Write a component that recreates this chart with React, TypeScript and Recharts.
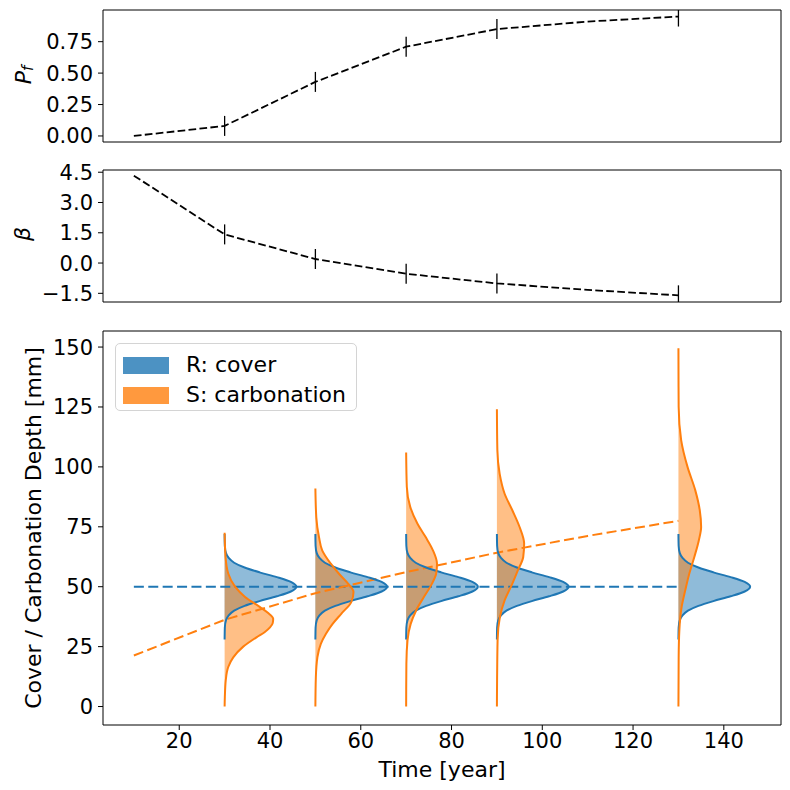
import React from 'react';
import { ComposedChart, Line, Area, Scatter, XAxis, YAxis, ReferenceArea } from 'recharts';

// time axis shared by all three panels
const TIMES = [10, 30, 50, 70, 90, 110, 130];
const MARK_TIMES = [30, 50, 70, 90, 130];
const PF = [0.0, 0.08, 0.43, 0.71, 0.85, 0.91, 0.95];
const BETA = [4.33, 1.42, 0.2, -0.53, -1.01, -1.33, -1.6];

const X_TICKS = [20, 40, 60, 80, 100, 120, 140];
const PF_TICKS = [0, 0.25, 0.5, 0.75];
const BETA_TICKS = [-1.5, 0, 1.5, 3, 4.5];
const DEPTH_TICKS = [0, 25, 50, 75, 100, 125, 150];

const X_DOMAIN: [number, number] = [3.2, 152.6];
const PF_DOMAIN: [number, number] = [-0.048, 1.002];
const BETA_DOMAIN: [number, number] = [-1.93, 4.61];
const DEPTH_DOMAIN: [number, number] = [-7.7, 156.7];

// R: cover (same density at every time), width in years
const R_MEAN = 50;
const R_DEPTH = [28, 33, 36, 38, 40, 42, 44, 46, 48, 50, 52, 54, 56, 58, 60, 62, 64, 67, 72];
const R_WIDTH = [0, 0.05, 0.3, 0.9, 2.1, 4.4, 7.7, 11.5, 14.6, 15.8, 14.6, 11.5, 7.7, 4.4, 2.1, 0.9, 0.3, 0.05, 0];

// S: carbonation depth densities
const S_TIMES = [30, 50, 70, 90, 130];
const S_DEPTH_30 = [0, 4, 11, 16.5, 20.5, 25, 29, 31, 33, 34.8, 36.6, 39, 41.5, 45.7, 50, 55.5, 62.5, 72.5];
const S_WIDTH_30 = [0, 0.05, 0.25, 0.8, 1.9, 4.1, 7.1, 8.8, 10.0, 10.6, 10.7, 9.6, 7.8, 4.5, 2.3, 0.8, 0.2, 0];
const S_DEPTH_50 = [0, 12, 20.6, 26.2, 30.3, 34.5, 38.7, 43.6, 47.8, 51.3, 55.4, 59.6, 65.2, 70.7, 79, 91];
const S_WIDTH_50 = [0, 0.1, 0.45, 1.2, 2.3, 3.8, 5.7, 7.9, 8.4, 7.2, 5.2, 3.4, 1.5, 0.8, 0.2, 0];
const S_DEPTH_70 = [0, 17.8, 27.6, 34.5, 40.1, 45.7, 51.3, 55.4, 59.6, 65.2, 70.7, 76.3, 83.3, 91.6, 106];
const S_WIDTH_70 = [0, 0.05, 0.3, 1.0, 2.2, 3.9, 5.7, 6.6, 6.8, 5.9, 4.3, 2.5, 0.9, 0.15, 0];
const S_DEPTH_90 = [0, 27.6, 37.3, 44.3, 51.3, 56.8, 62.4, 68, 74.9, 81.9, 88.8, 97.2, 107, 124];
const S_WIDTH_90 = [0, 0.15, 0.65, 1.7, 3.4, 4.6, 5.8, 6.0, 5.0, 3.4, 1.7, 0.6, 0.1, 0];
const S_DEPTH_130 = [0, 20.6, 31.8, 41.5, 48.5, 55.5, 62.4, 69.4, 74.9, 81.9, 90.3, 100, 111.2, 125, 149.5];
const S_WIDTH_130 = [0, 0.05, 0.2, 0.7, 1.5, 2.4, 3.5, 4.5, 5.0, 4.7, 3.7, 2.0, 0.6, 0.05, 0];

// mean carbonation depth at each time
const S_MEAN = [21.3, 36.2, 47.3, 56.1, 64.2, 71.2, 77.5];

const LEGEND_LABELS = ['R: cover', 'S: carbonation'];
const LEGEND_COLORS = ['#4c92c3', '#ff993e'];

const BLUE = '#1f77b4';
const ORANGE = '#ff7f0e';
const FONT = '"DejaVu Sans", sans-serif';
const tickStyle = { fill: '#000', fontSize: 21, fontFamily: FONT };

const toRows = (depth: number[], width: number[]) => depth.map((d, i) => ({ d, w: width[i] }));
const rRows = toRows(R_DEPTH, R_WIDTH);
const sRows = [
  toRows(S_DEPTH_30, S_WIDTH_30),
  toRows(S_DEPTH_50, S_WIDTH_50),
  toRows(S_DEPTH_70, S_WIDTH_70),
  toRows(S_DEPTH_90, S_WIDTH_90),
  toRows(S_DEPTH_130, S_WIDTH_130),
];
const rMeanRows = [
  { d: R_MEAN, t: TIMES[0] },
  { d: R_MEAN, t: TIMES[TIMES.length - 1] },
];
const sMeanRows = TIMES.map((t, i) => ({ d: S_MEAN[i], t }));

const fmtMinus = (s: string) => s.replace('-', '\u2212');

function VMark(props: any) {
  const { cx, cy } = props;
  if (cx == null || cy == null) return null;
  return <line x1={cx} x2={cx} y1={cy - 10} y2={cy + 10} stroke="#000" strokeWidth={1.3} />;
}

function TopPanel({ values, domain, ticks, fmt }: { values: number[]; domain: [number, number]; ticks: number[]; fmt: (v: number) => string }) {
  const rows = TIMES.map((t, i) => ({ t, v: values[i] }));
  const marks = rows.filter((r) => MARK_TIMES.includes(r.t));
  return (
    <ComposedChart width={790} height={160} data={rows} margin={{ top: 10, right: 9, bottom: 0, left: 0 }}>
      <XAxis
        dataKey="t"
        type="number"
        domain={X_DOMAIN}
        ticks={X_TICKS}
        interval={0}
        tick={false}
        tickSize={5}
        height={18}
        axisLine={false}
        tickLine={{ stroke: '#000' }}
        allowDataOverflow
      />
      <YAxis
        type="number"
        domain={domain}
        ticks={ticks}
        interval={0}
        tickFormatter={fmt}
        width={103}
        tickSize={5}
        tickMargin={5}
        tick={tickStyle}
        axisLine={false}
        tickLine={{ stroke: '#000' }}
        allowDataOverflow
      />
      <ReferenceArea x1={X_DOMAIN[0]} x2={X_DOMAIN[1]} y1={domain[0]} y2={domain[1]} fill="none" stroke="#000" strokeWidth={1} />
      <Line
        dataKey="v"
        type="linear"
        stroke="#000"
        strokeWidth={1.8}
        strokeDasharray="7.7 3.3"
        dot={false}
        activeDot={false}
        isAnimationActive={false}
      />
      <Scatter data={marks} dataKey="v" shape={(p: any) => <VMark {...p} />} isAnimationActive={false} />
    </ComposedChart>
  );
}

function DistPanel() {
  return (
    <ComposedChart layout="vertical" width={790} height={470} margin={{ top: 11, right: 9, bottom: 0, left: 0 }}>
      <XAxis
        type="number"
        domain={X_DOMAIN}
        ticks={X_TICKS}
        interval={0}
        height={65}
        tickSize={5}
        tickMargin={3}
        tick={tickStyle}
        axisLine={false}
        tickLine={{ stroke: '#000' }}
        allowDataOverflow
      />
      <YAxis
        type="number"
        dataKey="d"
        domain={DEPTH_DOMAIN}
        ticks={DEPTH_TICKS}
        interval={0}
        width={103}
        tickSize={5}
        tickMargin={5}
        tick={tickStyle}
        axisLine={false}
        tickLine={{ stroke: '#000' }}
        reversed
        allowDataOverflow
      />
      <ReferenceArea x1={X_DOMAIN[0]} x2={X_DOMAIN[1]} y1={DEPTH_DOMAIN[0]} y2={DEPTH_DOMAIN[1]} fill="none" stroke="#000" strokeWidth={1} />
      {S_TIMES.map((t, i) => (
        <React.Fragment key={t}>
          <Area
            data={rRows}
            dataKey={(r: any) => t + r.w}
            baseValue={t}
            type="monotone"
            stroke="none"
            fill={BLUE}
            fillOpacity={0.5}
            isAnimationActive={false}
          />
          <Area
            data={sRows[i]}
            dataKey={(r: any) => t + r.w}
            baseValue={t}
            type="monotone"
            stroke="none"
            fill={ORANGE}
            fillOpacity={0.5}
            isAnimationActive={false}
          />
        </React.Fragment>
      ))}
      <Line data={rMeanRows} dataKey="t" type="linear" stroke={BLUE} strokeWidth={2} strokeDasharray="10 4.4" dot={false} activeDot={false} isAnimationActive={false} />
      <Line data={sMeanRows} dataKey="t" type="linear" stroke={ORANGE} strokeWidth={2} strokeDasharray="10 4.4" dot={false} activeDot={false} isAnimationActive={false} />
      {S_TIMES.map((t, i) => (
        <React.Fragment key={'l' + t}>
          <Line data={rRows} dataKey={(r: any) => t + r.w} type="monotone" stroke={BLUE} strokeWidth={2} dot={false} activeDot={false} isAnimationActive={false} />
          <Line data={sRows[i]} dataKey={(r: any) => t + r.w} type="monotone" stroke={ORANGE} strokeWidth={2} dot={false} activeDot={false} isAnimationActive={false} />
        </React.Fragment>
      ))}
    </ComposedChart>
  );
}

export default function App() {
  return (
    <div style={{ position: 'fixed', left: 0, top: 0, width: 790, height: 790, background: '#fff', fontFamily: FONT }}>
      <div style={{ position: 'absolute', left: 0, top: 0 }}>
        <TopPanel values={PF} domain={PF_DOMAIN} ticks={PF_TICKS} fmt={(v) => v.toFixed(2)} />
      </div>
      <div style={{ position: 'absolute', left: 0, top: 160 }}>
        <TopPanel values={BETA} domain={BETA_DOMAIN} ticks={BETA_TICKS} fmt={(v) => fmtMinus(v.toFixed(1))} />
      </div>
      <div style={{ position: 'absolute', left: 0, top: 320 }}>
        <DistPanel />
      </div>
      <svg width={790} height={790} style={{ position: 'absolute', left: 0, top: 0, pointerEvents: 'none' }}>
        <text transform="translate(23,75) rotate(-90)" textAnchor="middle" dominantBaseline="central" fontSize={22} fontFamily={FONT} fontStyle="italic">
          P<tspan dy={5} fontSize={15}>f</tspan>
        </text>
        <text transform="translate(22,234) rotate(-90)" textAnchor="middle" dominantBaseline="central" fontSize={22} fontFamily={FONT} fontStyle="italic">
          β
        </text>
        <text transform="translate(33,528) rotate(-90)" textAnchor="middle" dominantBaseline="central" fontSize={22} fontFamily={FONT}>
          Cover / Carbonation Depth [mm]
        </text>
        <text x={442} y={769} textAnchor="middle" dominantBaseline="central" fontSize={22} fontFamily={FONT}>
          Time [year]
        </text>
      </svg>
      <div
        style={{
          position: 'absolute',
          left: 115,
          top: 343,
          width: 242,
          height: 68,
          boxSizing: 'border-box',
          border: '1px solid #d4d4d4',
          borderRadius: 5,
          background: 'rgba(255,255,255,0.8)',
          fontSize: 22,
          padding: '6px 0 0 7px',
        }}
      >
        {LEGEND_LABELS.map((label, i) => (
          <div key={label} style={{ display: 'flex', alignItems: 'center', height: 30 }}>
            <div style={{ width: 46, height: 17, background: LEGEND_COLORS[i], marginRight: 17 }} />
            <span style={{ lineHeight: '26px', color: '#000' }}>{label}</span>
          </div>
        ))}
      </div>
    </div>
  );
}
